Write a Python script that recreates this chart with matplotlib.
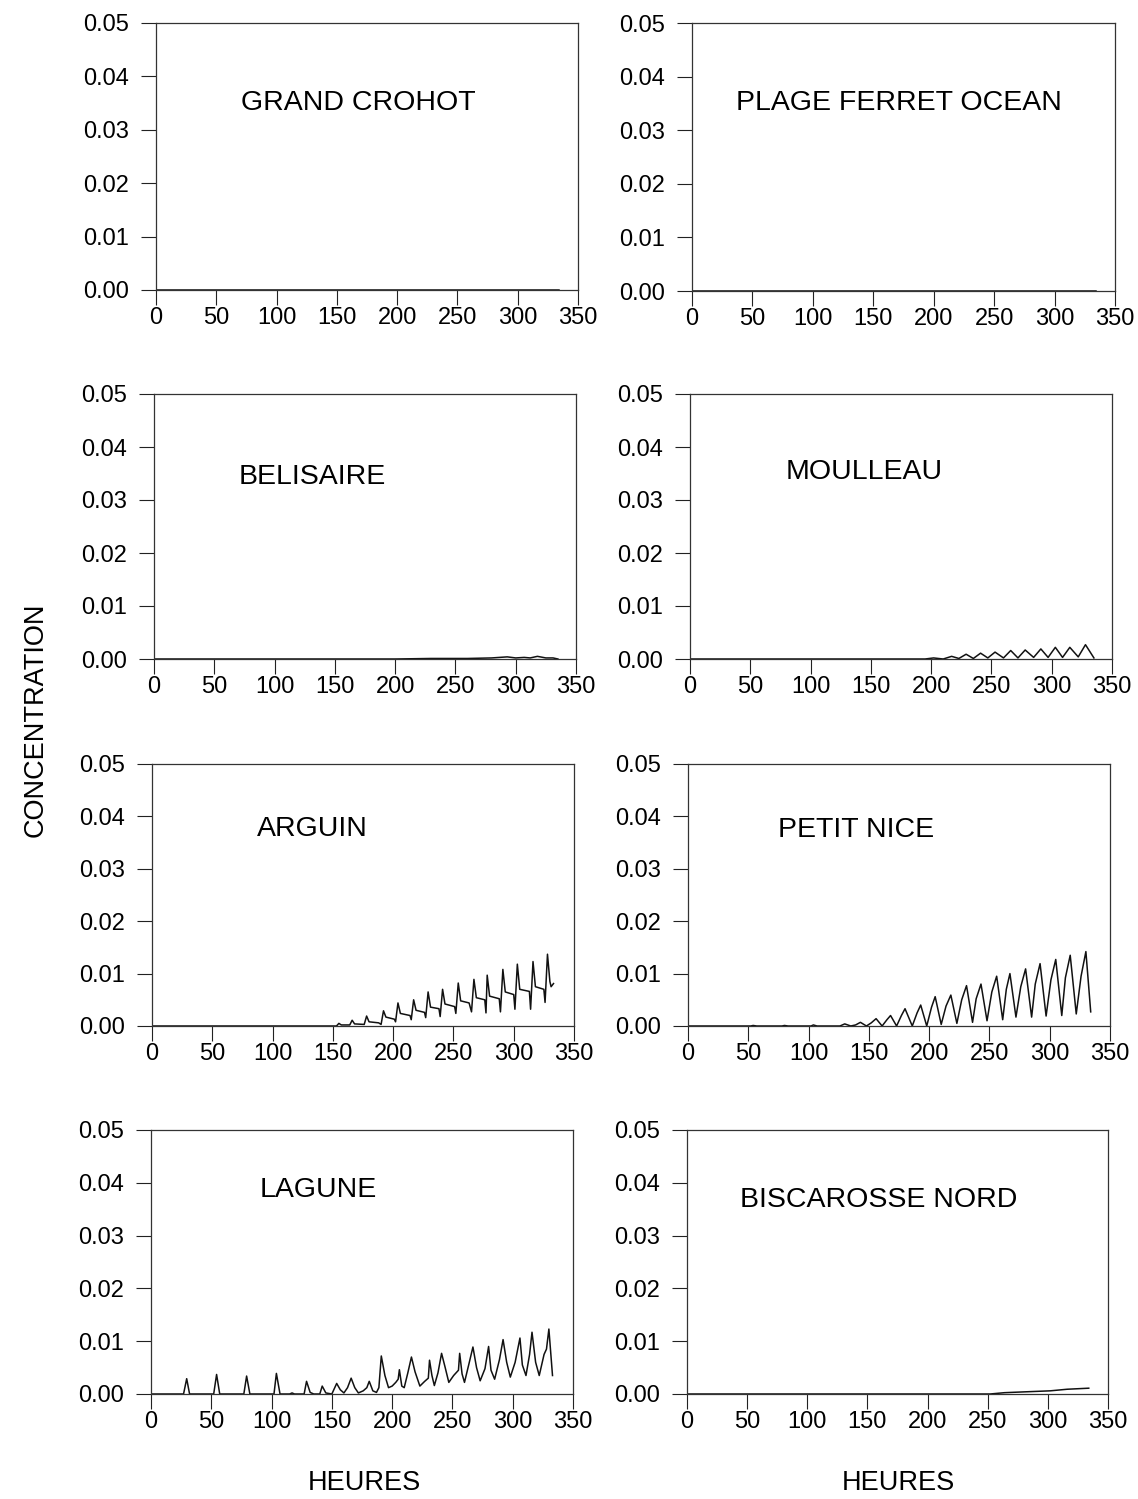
import numpy as np
import matplotlib.pyplot as plt

plt.rcParams['font.family'] = ['Liberation Sans', 'DejaVu Sans']

# hours / concentration read for each station
crohot_t = [0, 334]
crohot_c = [0.0, 0.0]

ferret_t = [0, 334]
ferret_c = [0.0, 0.0]

belisaire_t = [0, 200, 230, 260, 280, 293, 300, 307, 312, 318, 325, 331, 335]
belisaire_c = [0.0, 0.0, 0.0001, 0.0001, 0.0002, 0.0004, 0.0002, 0.0003,
               0.0002, 0.0005, 0.0002, 0.0002, 0.0]

moulleau_t = [0, 195, 202, 210, 217, 223, 229, 235, 241, 247, 253, 260, 266,
              272, 278, 285, 291, 297, 303, 309, 315, 322, 328, 335]
moulleau_c = [0.0, 0.0, 0.0002, 0.0, 0.0005, 0.0001, 0.0009, 0.0001, 0.0011,
              0.0002, 0.0013, 0.0002, 0.0016, 0.0002, 0.0017, 0.0003, 0.0019,
              0.0003, 0.0022, 0.0003, 0.0022, 0.0004, 0.0027, 0.0002]

arguin_t = [0, 150, 153, 155, 157, 164, 166, 168, 176, 178, 180, 188, 190, 192,
            194, 201, 202, 204, 206, 214, 215, 217, 219, 226, 227, 229, 231,
            238, 239, 241, 243, 251, 252, 254, 256, 263, 265, 267, 269, 276,
            277, 278, 280, 288, 289, 291, 293, 300, 301, 303, 305, 313, 314,
            316, 318, 325, 326, 328, 330, 331, 333]
arguin_c = [0.0, 0.0, 0.0, 0.0005, 0.0002, 0.0002, 0.0011, 0.0004, 0.0003,
            0.0019, 0.0008, 0.0006, 0.0003, 0.0029, 0.0017, 0.0013, 0.0008,
            0.0044, 0.0024, 0.0020, 0.0012, 0.0050, 0.0030, 0.0026, 0.0016,
            0.0065, 0.0036, 0.0033, 0.0018, 0.0070, 0.0042, 0.0037, 0.0024,
            0.0082, 0.0048, 0.0044, 0.0027, 0.0089, 0.0054, 0.0050, 0.0025,
            0.0097, 0.0057, 0.0052, 0.0027, 0.0108, 0.0065, 0.0060, 0.0032,
            0.0118, 0.0070, 0.0066, 0.0032, 0.0123, 0.0075, 0.0070, 0.0045,
            0.0137, 0.0085, 0.0075, 0.0081]

nice_t = [0, 30, 52, 54, 57, 78, 80, 83, 102, 104, 107, 126, 130, 135, 139,
          143, 148, 152, 156, 161, 165, 168, 173, 177, 180, 186, 190, 193,
          198, 202, 205, 210, 214, 218, 223, 227, 231, 236, 239, 243, 248,
          252, 256, 261, 264, 267, 272, 276, 280, 285, 288, 292, 297, 301,
          305, 310, 313, 317, 322, 326, 330, 334]
nice_c = [0.0, 0.0, 0.0, 0.0001, 0.0, 0.0, 0.0001, 0.0, 0.0, 0.0002, 0.0, 0.0,
          0.0004, 0.0, 0.0002, 0.0007, 0.0, 0.0006, 0.0014, 0.0, 0.0012,
          0.0020, 0.0, 0.0020, 0.0033, 0.0, 0.0025, 0.0040, 0.0, 0.0036,
          0.0056, 0.0003, 0.0038, 0.0059, 0.0005, 0.0050, 0.0077, 0.0007,
          0.0052, 0.0080, 0.0010, 0.0065, 0.0095, 0.0012, 0.0070, 0.0100,
          0.0017, 0.0075, 0.0109, 0.0017, 0.0080, 0.0119, 0.0019, 0.0088,
          0.0127, 0.0020, 0.0092, 0.0135, 0.0023, 0.0095, 0.0142, 0.0027]

lagune_t = [0, 27, 29.6, 32, 52, 54.4, 57, 77, 79.3, 82, 102, 104, 107, 115,
            117, 119, 127, 129, 132, 135, 140, 142, 145, 150, 154, 157, 160,
            163, 166, 169, 172, 176, 179, 181, 184, 187, 189, 191, 194, 197,
            200, 203, 205, 206, 208, 210, 213, 216, 219, 223, 227, 230, 231,
            233, 235, 238, 241, 244, 247, 251, 255, 256, 258, 260, 264, 267,
            270, 273, 277, 280, 282, 285, 289, 292, 295, 298, 302, 306, 308,
            311, 314, 316, 319, 322, 326, 328, 330, 333]
lagune_c = [0.0, 0.0, 0.0029, 0.0, 0.0, 0.0037, 0.0, 0.0, 0.0034, 0.0, 0.0,
            0.0039, 0.0, 0.0, 0.0002, 0.0, 0.0, 0.0024, 0.0003, 0.0, 0.0,
            0.0015, 0.0002, 0.0, 0.0020, 0.0008, 0.0002, 0.0012, 0.0030,
            0.0012, 0.0002, 0.0006, 0.0012, 0.0024, 0.0006, 0.0003, 0.0012,
            0.0072, 0.0035, 0.0012, 0.0015, 0.0022, 0.0028, 0.0046, 0.0015,
            0.0012, 0.0040, 0.0070, 0.0042, 0.0015, 0.0024, 0.0030, 0.0064,
            0.0035, 0.0016, 0.0040, 0.0077, 0.0050, 0.0022, 0.0035, 0.0045,
            0.0077, 0.0038, 0.0022, 0.0060, 0.0089, 0.0050, 0.0025, 0.0048,
            0.0090, 0.0045, 0.0028, 0.0065, 0.0103, 0.0060, 0.0032, 0.0060,
            0.0106, 0.0055, 0.0035, 0.0075, 0.0117, 0.0060, 0.0035, 0.0075,
            0.0085, 0.0123, 0.0035]

bisca_t = [0, 252, 264, 280, 302, 316, 334]
bisca_c = [0.0, 0.0, 0.00025, 0.0004, 0.0006, 0.0009, 0.0011]

W, H = 1138, 1499
fig = plt.figure(figsize=(W / 100, H / 100), dpi=100)

# (name, t, c, box in pixels [x0, x1, ytop, ybottom], title position in axes coords)
panels = [
    ('GRAND CROHOT', crohot_t, crohot_c, (156, 578, 23, 290), (0.48, 0.70)),
    ('PLAGE FERRET OCEAN', ferret_t, ferret_c, (692, 1115, 23, 291), (0.49, 0.70)),
    ('BELISAIRE', belisaire_t, belisaire_c, (154, 576, 394, 659), (0.376, 0.687)),
    ('MOULLEAU', moulleau_t, moulleau_c, (690, 1112, 394, 659), (0.412, 0.706)),
    ('ARGUIN', arguin_t, arguin_c, (152, 574, 764, 1026), (0.379, 0.752)),
    ('PETIT NICE', nice_t, nice_c, (688, 1110, 764, 1026), (0.398, 0.748)),
    ('LAGUNE', lagune_t, lagune_c, (151, 573, 1130, 1394), (0.396, 0.773)),
    ('BISCAROSSE NORD', bisca_t, bisca_c, (687, 1108, 1130, 1394), (0.456, 0.735)),
]

for name, t, c, box, tpos in panels:
    x0, x1, yt, yb = box
    ax = fig.add_axes([x0 / W, 1 - yb / H, (x1 - x0) / W, (yb - yt) / H])
    ax.plot(t, c, color='#111111', lw=1.1)
    ax.set_xlim(0, 350)
    ax.set_ylim(0, 0.05)
    ax.set_xticks(np.arange(0, 351, 50))
    ax.set_yticks([0.0, 0.01, 0.02, 0.03, 0.04, 0.05])
    ax.set_yticklabels(['%.2f' % v for v in ax.get_yticks()])
    ax.tick_params(axis='both', direction='out', length=10.5, width=0.8,
                   labelsize=17, color='#222222')
    ax.tick_params(axis='x', pad=2)
    ax.tick_params(axis='y', pad=9)
    for sp in ax.spines.values():
        sp.set_linewidth(0.9)
        sp.set_color('#333333')
    ax.text(tpos[0], tpos[1], name, transform=ax.transAxes, ha='center',
            va='center', fontsize=20.5)

fig.text(36 / W, 1 - 720 / H, 'CONCENTRATION', rotation=90, ha='center',
         va='center', fontsize=19.5)
fig.text(364 / W, 1 - 1483 / H, 'HEURES', ha='center', va='center', fontsize=19.5)
fig.text(898 / W, 1 - 1483 / H, 'HEURES', ha='center', va='center', fontsize=19.5)

fig.savefig('out.png', dpi=100)
